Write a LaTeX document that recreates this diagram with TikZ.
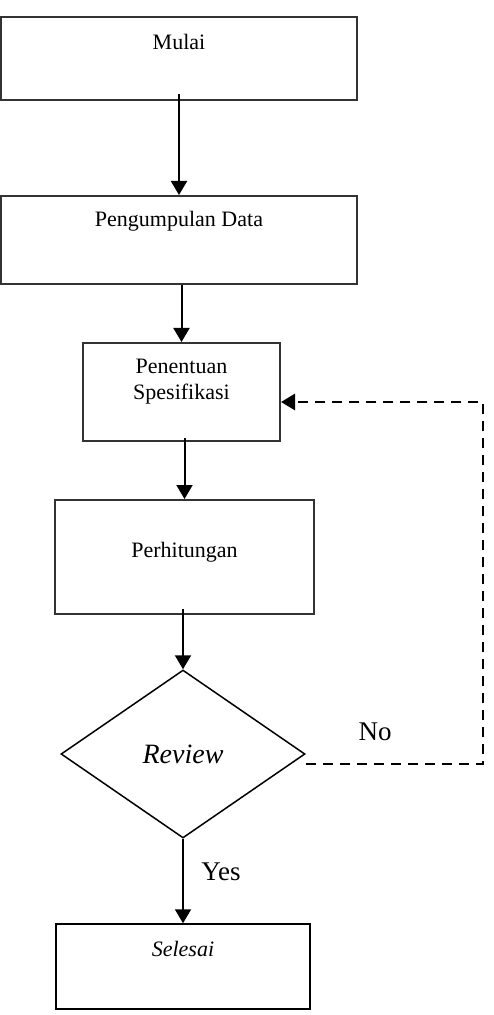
\documentclass[tikz,border=0pt]{standalone}
\usepackage{fontspec}
\setmainfont{Liberation Serif}
\usetikzlibrary{positioning,shapes.geometric,arrows.meta}
\begin{document}
\begin{tikzpicture}[x=0.5pt,y=-0.5pt,
    >={Triangle[length=7pt,width=8pt]},
    kotak/.style={draw=black!80,line width=1pt,inner sep=0pt},
    kotaktipis/.style={draw,line width=0.75pt,inner sep=0pt},
    teks/.style={inner sep=0pt,anchor=north,align=center,font=\fontsize{11}{12.8}\selectfont},
    ket/.style={inner sep=0pt,font=\fontsize{13.5}{16}\selectfont},
    panah/.style={->,line width=1pt},
    putus/.style={->,line width=1.4pt,dash pattern=on 5pt off 3.5pt}]
  \useasboundingbox (0,0) rectangle (493,1015);
  % kotak-kotak proses
  \node[kotak,minimum width=178pt,minimum height=41.5pt] (mulai) at (179,58.5) {};
  \node[kotak,minimum width=178pt,minimum height=44pt] (data) at (179,240) {};
  \node[kotak,minimum width=98.5pt,minimum height=49pt] (spek) at (181.5,392) {};
  \node[kotak,minimum width=129.5pt,minimum height=57pt] (hitung) at (184.5,557) {};
  \node[draw,diamond,line width=0.75pt,inner sep=0pt,minimum width=122pt,minimum height=84pt,
    font=\fontsize{14}{16}\selectfont\itshape] (review) at (183,754) {Review};
  \node[kotaktipis,minimum width=127pt,minimum height=42.5pt] (selesai) at (183,966.5) {};
  % tulisan di dalam kotak
  \node[teks,below=9pt of mulai.north] (tmulai) {Mulai};
  \node[teks,below=8pt of data.north] (tdata) {Pengumpulan Data};
  \node[teks,below=8.5pt of spek.north] (tspek) {Penentuan\\Spesifikasi};
  \node[teks,below=21.5pt of hitung.north] (thitung) {Perhitungan};
  \node[teks,below=9pt of selesai.north,font=\fontsize{11}{12.8}\selectfont\itshape] (tselesai) {Selesai};
  % keterangan
  \node[ket] (no) at (375,732) {No};
  \node[ket] (yes) at (221,872) {Yes};
  % panah
  \draw[panah,shorten <=-3.5pt] (mulai.south) -- (data.north);
  \draw[panah] (spek.north |- data.south) -- (spek.north);
  \draw[panah,shorten <=-2pt] (hitung.north |- spek.south) -- (hitung.north);
  \draw[panah,shorten <=-3pt] (review.north |- hitung.south) -- (review.north);
  \draw[panah] (review.south) -- (review.south |- selesai.north);
  \coordinate (kanan) at (483,764);
  \coordinate (atas) at (483,402);
  \draw[putus] ([yshift=-5pt]review.east) -- (kanan) -- (atas) -- (spek.east |- atas);
\end{tikzpicture}
\end{document}
